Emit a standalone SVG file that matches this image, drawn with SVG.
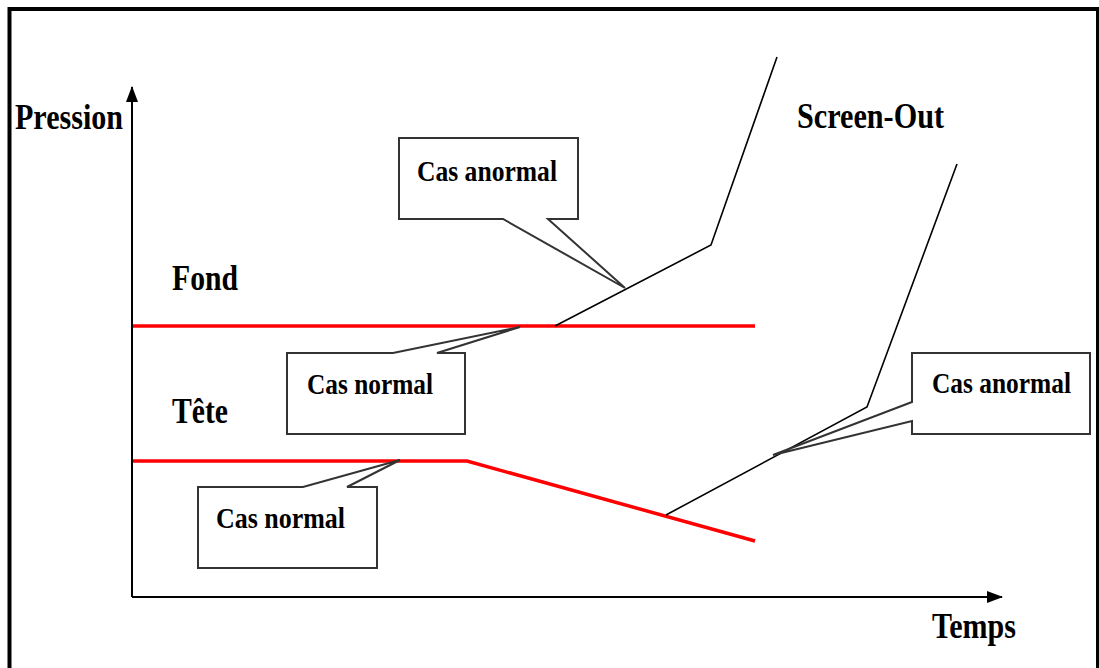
<svg xmlns="http://www.w3.org/2000/svg" width="1099" height="668" viewBox="0 0 1099 668">
<defs>
<marker id="arr" markerWidth="16" markerHeight="12" refX="15" refY="6" orient="auto" markerUnits="userSpaceOnUse" viewBox="0 0 16 12"><path d="M0,0 L16,6 L0,12 z" fill="#000"/></marker>
<style>
.t{font-family:"Liberation Serif","Times New Roman",serif;font-weight:bold;font-size:36px;fill:#000}
.box{fill:#fff;stroke:#333;stroke-width:2}
.ln{fill:none;stroke:#000;stroke-width:1.6}
.red{fill:none;stroke:#f00;stroke-width:3.5}
</style>
</defs>
<rect x="0" y="0" width="1099" height="668" fill="#fff"/>
<path d="M9.5,670 L9.5,9 L1098,9 L1098,670" fill="none" stroke="#000" stroke-width="4"/>
<g id="axes">
<line x1="132" y1="597" x2="132" y2="87" stroke="#000" stroke-width="2" marker-end="url(#arr)"/>
<line x1="132" y1="597" x2="1002" y2="597" stroke="#000" stroke-width="2" marker-end="url(#arr)"/>
</g>
<g id="labels">
<text class="t" x="15" y="129" textLength="108" lengthAdjust="spacingAndGlyphs">Pression</text>
<text class="t" x="797" y="128" textLength="147" lengthAdjust="spacingAndGlyphs">Screen-Out</text>
<text class="t" x="172" y="290" textLength="66" lengthAdjust="spacingAndGlyphs">Fond</text>
<text class="t" x="172" y="423" textLength="56" lengthAdjust="spacingAndGlyphs">Tête</text>
<text class="t" x="932" y="638" textLength="84" lengthAdjust="spacingAndGlyphs">Temps</text>
</g>
<g id="connectors">
<polyline class="red" points="133,326 755,326"/>
<polyline class="red" points="133,461 467,461 755,541"/>
<polyline class="ln" points="555,326 711,245 777,57"/>
<polyline class="ln" points="666,515 867,407 957,164"/>
</g>
<g id="callout-anormal-1">
<path class="box" d="M399,138 H578 V219 H548 L625,288 L503,219 H399 Z"/>
<text class="t" x="417" y="181" textLength="140" lengthAdjust="spacingAndGlyphs" style="font-size:30px">Cas anormal</text>
</g>
<g id="callout-normal-1">
<path class="box" d="M287,353 H393 L520,327 L437,353 H465 V434 H287 Z"/>
<text class="t" x="307" y="394" textLength="126" lengthAdjust="spacingAndGlyphs" style="font-size:30px">Cas normal</text>
</g>
<g id="callout-normal-2">
<path class="box" d="M198,487 H303 L400,460 L347,487 H377 V568 H198 Z"/>
<text class="t" x="216" y="528" textLength="129" lengthAdjust="spacingAndGlyphs" style="font-size:30px">Cas normal</text>
</g>
<g id="callout-anormal-2">
<path class="box" d="M912,353 H1090 V434 H912 V421 L773,455 L912,402 Z"/>
<text class="t" x="932" y="393" textLength="139" lengthAdjust="spacingAndGlyphs" style="font-size:30px">Cas anormal</text>
</g>
</svg>
